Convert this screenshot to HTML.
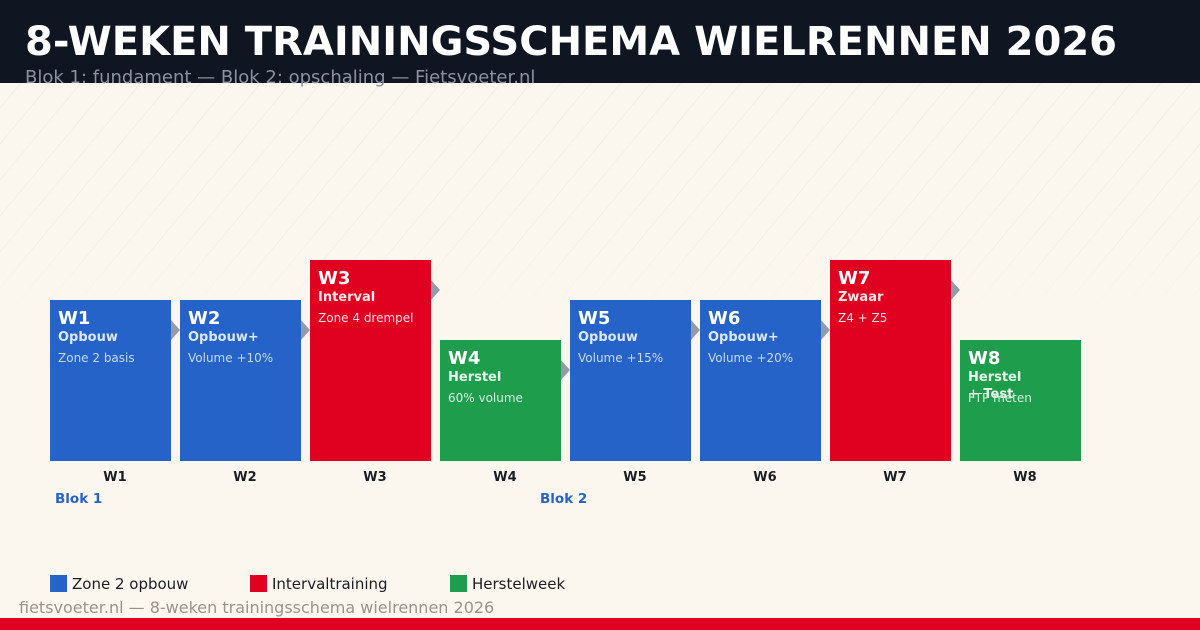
<!DOCTYPE html>
<html><head><meta charset="utf-8"><style>
html,body{margin:0;padding:0;background:#fbf7ef;}
svg{display:block;font-family:"DejaVu Sans","Liberation Sans",sans-serif;}
</style></head><body>
<svg width="1200" height="630" viewBox="0 0 1200 630" xmlns="http://www.w3.org/2000/svg">
<defs>
<pattern id="h" width="30" height="36" patternUnits="userSpaceOnUse">
<line x1="0" y1="36" x2="30" y2="0" stroke="#f0ead8" stroke-width="0.7"/>
</pattern>
<linearGradient id="fg" x1="0" y1="0" x2="0" y2="1">
<stop offset="0" stop-color="#fff" stop-opacity="1"/>
<stop offset="0.7" stop-color="#fff" stop-opacity="0.8"/>
<stop offset="1" stop-color="#fff" stop-opacity="0"/>
</linearGradient>
<mask id="m"><rect x="0" y="83" width="1200" height="230" fill="url(#fg)"/></mask>
</defs>
<rect width="1200" height="630" fill="#fbf7ef"/>
<rect x="0" y="83" width="1200" height="230" fill="url(#h)" mask="url(#m)"/>
<rect width="1200" height="83" fill="#0f1521"/>
<text x="25" y="55" font-size="40" font-weight="bold" fill="#ffffff">8-WEKEN TRAININGSSCHEMA WIELRENNEN 2026</text>
<text x="25" y="83" font-size="18" fill="#8a93a3">Blok 1: fundament — Blok 2: opschaling — Fietsvoeter.nl</text>

<g fill="#939bab">
<polygon points="171,320 180,330 171,340"/>
<polygon points="301,320 310,330 301,340"/>
<polygon points="431,280 440,290 431,300"/>
<polygon points="561,360 570,370 561,380"/>
<polygon points="691,320 700,330 691,340"/>
<polygon points="821,320 830,330 821,340"/>
<polygon points="951,280 960,290 951,300"/>
</g>

<g>
<rect x="50" y="300" width="121" height="161" fill="#2563c9"/>
<text x="58" y="324" font-size="18" font-weight="bold" fill="#fff">W1</text>
<text x="58" y="341" font-size="13" font-weight="bold" fill="#dbe6ff">Opbouw</text>
<text x="58" y="362" font-size="12" fill="#c8d8f5">Zone 2 basis</text>

<rect x="180" y="300" width="121" height="161" fill="#2563c9"/>
<text x="188" y="324" font-size="18" font-weight="bold" fill="#fff">W2</text>
<text x="188" y="341" font-size="13" font-weight="bold" fill="#dbe6ff">Opbouw+</text>
<text x="188" y="362" font-size="12" fill="#c8d8f5">Volume +10%</text>

<rect x="310" y="260" width="121" height="201" fill="#e0001f"/>
<text x="318" y="284" font-size="18" font-weight="bold" fill="#fff">W3</text>
<text x="318" y="301" font-size="13" font-weight="bold" fill="#ffe6e8">Interval</text>
<text x="318" y="322" font-size="12" fill="#ffdfe2">Zone 4 drempel</text>

<rect x="440" y="340" width="121" height="121" fill="#1e9e4c"/>
<text x="448" y="364" font-size="18" font-weight="bold" fill="#fff">W4</text>
<text x="448" y="381" font-size="13" font-weight="bold" fill="#e4f6ea">Herstel</text>
<text x="448" y="402" font-size="12" fill="#d6f0df">60% volume</text>

<rect x="570" y="300" width="121" height="161" fill="#2563c9"/>
<text x="578" y="324" font-size="18" font-weight="bold" fill="#fff">W5</text>
<text x="578" y="341" font-size="13" font-weight="bold" fill="#dbe6ff">Opbouw</text>
<text x="578" y="362" font-size="12" fill="#c8d8f5">Volume +15%</text>

<rect x="700" y="300" width="121" height="161" fill="#2563c9"/>
<text x="708" y="324" font-size="18" font-weight="bold" fill="#fff">W6</text>
<text x="708" y="341" font-size="13" font-weight="bold" fill="#dbe6ff">Opbouw+</text>
<text x="708" y="362" font-size="12" fill="#c8d8f5">Volume +20%</text>

<rect x="830" y="260" width="121" height="201" fill="#e0001f"/>
<text x="838" y="284" font-size="18" font-weight="bold" fill="#fff">W7</text>
<text x="838" y="301" font-size="13" font-weight="bold" fill="#ffe6e8">Zwaar</text>
<text x="838" y="322" font-size="12" fill="#ffdfe2">Z4 + Z5</text>

<rect x="960" y="340" width="121" height="121" fill="#1e9e4c"/>
<text x="968" y="364" font-size="18" font-weight="bold" fill="#fff">W8</text>
<text x="968" y="381" font-size="13" font-weight="bold" fill="#e4f6ea">Herstel</text>
<text x="968" y="398" font-size="13" font-weight="bold" fill="#e4f6ea">+ Test</text>
<text x="968" y="402" font-size="12" fill="#d6f0df">FTP meten</text>
</g>

<g font-size="13" font-weight="bold" fill="#1a1d24" text-anchor="middle">
<text x="115" y="481">W1</text><text x="245" y="481">W2</text><text x="375" y="481">W3</text><text x="505" y="481">W4</text>
<text x="635" y="481">W5</text><text x="765" y="481">W6</text><text x="895" y="481">W7</text><text x="1025" y="481">W8</text>
</g>
<text x="55" y="503" font-size="13.5" font-weight="bold" fill="#2563c9">Blok 1</text>
<text x="540" y="503" font-size="13.5" font-weight="bold" fill="#2563c9">Blok 2</text>

<rect x="50" y="575" width="17" height="17" fill="#2563c9"/>
<text x="72" y="589" font-size="15" fill="#1a1d24">Zone 2 opbouw</text>
<rect x="250" y="575" width="17" height="17" fill="#e0001f"/>
<text x="272" y="589" font-size="15" fill="#1a1d24">Intervaltraining</text>
<rect x="450" y="575" width="17" height="17" fill="#1e9e4c"/>
<text x="472" y="589" font-size="15" fill="#1a1d24">Herstelweek</text>

<text x="19" y="613" font-size="16" fill="#9a9488">fietsvoeter.nl — 8-weken trainingsschema wielrennen 2026</text>
<rect x="0" y="618" width="1200" height="12" fill="#e0001f"/>
</svg>
</body></html>
